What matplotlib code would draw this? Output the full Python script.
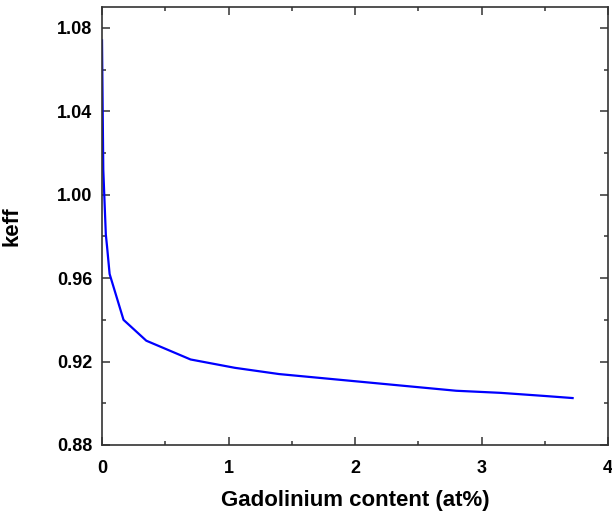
import matplotlib
matplotlib.use("Agg")
import matplotlib.pyplot as plt
from matplotlib.ticker import MultipleLocator

# Gd content (at%) vs keff
gd_content = [0.0, 0.005, 0.01, 0.03, 0.04, 0.06, 0.08, 0.17, 0.35, 0.70,
              1.05, 1.40, 1.75, 2.10, 2.45, 2.80, 3.15, 3.50, 3.72]
keff = [1.074, 1.042, 1.012, 0.981, 0.975, 0.962, 0.958, 0.940, 0.930, 0.921,
        0.917, 0.914, 0.912, 0.910, 0.908, 0.906, 0.905, 0.9035, 0.9025]

xticks = [0, 1, 2, 3, 4]
yticks = [0.88, 0.92, 0.96, 1.00, 1.04, 1.08]

plt.rcParams['font.family'] = ['Liberation Sans', 'DejaVu Sans']
plt.rcParams['font.weight'] = 'bold'

fig = plt.figure(figsize=(6.12, 5.24), dpi=100)
ax = fig.add_axes([0.1667, 0.1508, 0.8268, 0.8358])

ax.plot(gd_content, keff, color='#0000ff', linewidth=1.6)

ax.set_xlim(0, 4)
ax.set_ylim(0.88, 1.090)
ax.set_xticks(xticks)
ax.set_yticks(yticks)
ax.set_yticklabels(["%.2f" % v for v in yticks])
ax.xaxis.set_minor_locator(MultipleLocator(0.5))
ax.yaxis.set_minor_locator(MultipleLocator(0.02))

ax.tick_params(which='both', direction='in', top=True, right=True,
               color='#333333', labelsize=13)
ax.tick_params(axis='x', pad=11)
ax.tick_params(axis='y', pad=7)
ax.tick_params(which='major', length=6, width=1.1)
ax.tick_params(which='minor', length=3, width=1.1)
for s in ax.spines.values():
    s.set_color('#333333')
    s.set_linewidth(1.2)

ax.set_xlabel("Gadolinium content (at%)", fontsize=16, fontweight='bold')
ax.set_ylabel("keff", fontsize=16, fontweight='bold')
ax.xaxis.set_label_coords(0.5, -0.102)
ax.yaxis.set_label_coords(-0.158, 0.5)

fig.savefig("out.png", dpi=100)
